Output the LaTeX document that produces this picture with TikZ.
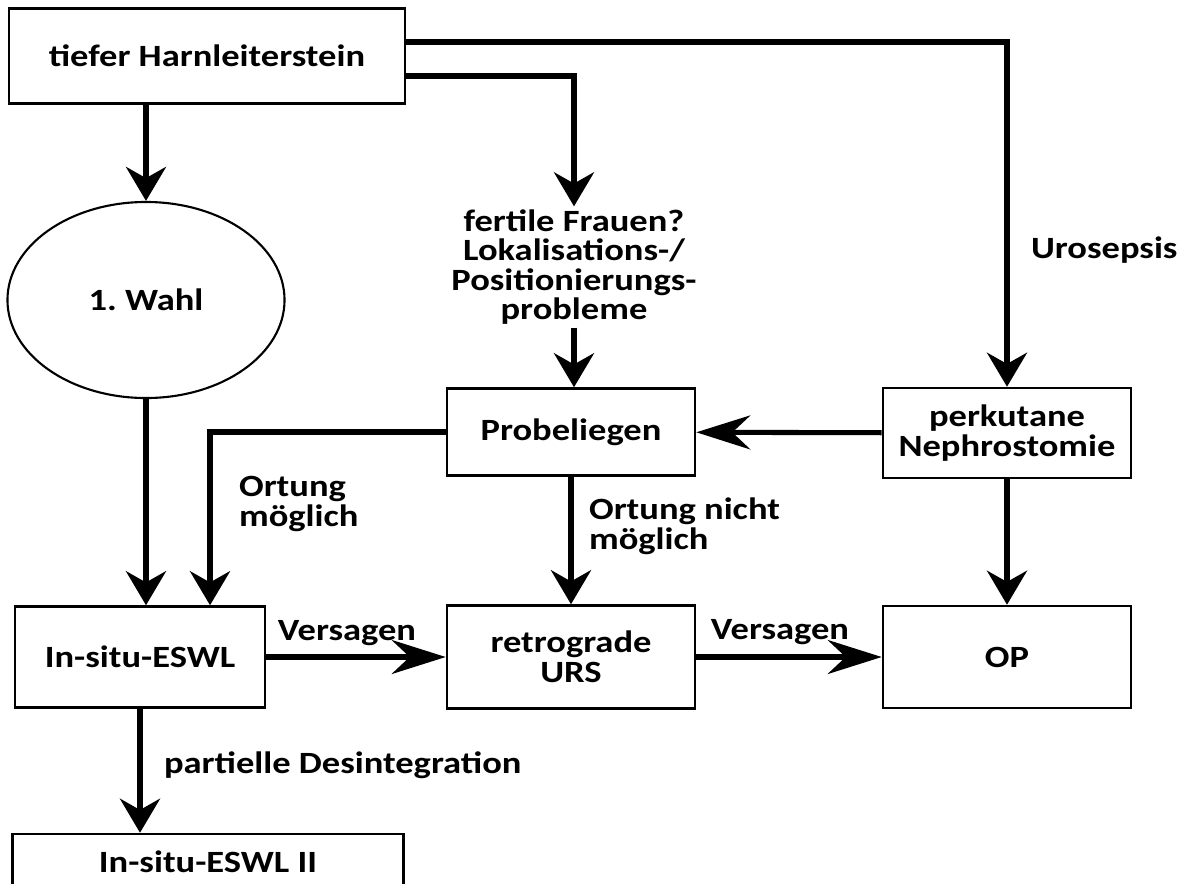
\documentclass[tikz,border=0pt]{standalone}
\usepackage{fontspec}
\setmainfont{Carlito}[FakeStretch=1.18]
\usetikzlibrary{arrows.meta, shapes.geometric, positioning}

\newcommand\diagfont{\fontsize{22}{21}\selectfont\bfseries}

\begin{document}
\begin{tikzpicture}[
    x=0.025cm, y=-0.025cm,
    box/.style={
        rectangle,
        draw=black,
        line width=1.8pt,
        minimum width=6.2cm,
        minimum height=2.2cm,
        align=center,
        font=\diagfont
    },
    oval/.style={
        ellipse,
        draw=black,
        line width=1.5pt,
        font=\diagfont
    },
    note/.style={
        font=\diagfont,
        inner sep=2pt
    },
    varrow/.style={
        -{Stealth[length=0.85cm, width=1cm, inset=0.28cm]},
        line width=3.6pt
    },
    harrow/.style={
        -{Stealth[length=1.35cm, width=0.85cm, inset=0.45cm]},
        line width=3.6pt
    }
]

% Page
\fill[white] (0,0) rectangle (1185,883);
\useasboundingbox (0,0) rectangle (1185,883);

% Left column
\node[box, minimum width=9.9cm, minimum height=2.375cm] (harn) at (207,56) {tiefer Harnleiterstein};
\node[oval, minimum width=6.925cm, minimum height=4.9cm] (wahl) at (146,300) {1.\ Wahl};
\node[box, minimum width=6.25cm, minimum height=2.525cm] (eswl) at (140,657) {In-situ-ESWL};
\node[box, minimum width=9.775cm, minimum height=1.4cm] (eswlii) at (208,862) {In-situ-ESWL II};

% Middle column
\node[note, align=center] (fertile) at (574,267) {fertile Frauen?\\Lokalisations-/\\Positionierungs-\\probleme};
\node[box, minimum height=2.175cm] (probe) at (571,432) {Probeliegen};
\node[box, minimum height=2.575cm] (urs) at (571,657) {retrograde\\URS};

% Right column
\node[box, minimum height=2.25cm] (nephro) at (1007,433) {perkutane\\Nephrostomie};
\node[box, minimum height=2.55cm] (op) at (1007,657) {OP};

% Connections
\draw[varrow] (harn.south -| wahl.north) -- (wahl.north);
\draw[varrow] (wahl.south) -- (wahl.south |- eswl.north);
\draw[varrow] ([yshift=0.35cm]harn.east) -| (nephro.north);
\draw[varrow] ([yshift=-0.5cm]harn.east) -| (fertile.north);
\draw[varrow] (fertile.south) -- (fertile.south |- probe.north);
\draw[harrow] (nephro) -- (probe);
\draw[varrow] (probe.west) -| ([xshift=1.75cm]eswl.north);
\draw[varrow] (probe) -- (urs);
\draw[varrow] (nephro) -- (op);
\draw[harrow] (eswl) -- (urs);
\draw[harrow] (urs) -- (op);
\draw[varrow] (eswl.south) -- (eswl.south |- eswlii.north);

% Labels
\node[note, anchor=west] (sepsis) at (1028,250) {Urosepsis};
\node[note, anchor=west, align=left] (ortja) at (236,504) {Ortung\\möglich};
\node[note, anchor=west, align=left] (ortnein) at (586,526) {Ortung nicht\\möglich};
\node[note] (versagen1) at (347,633) {Versagen};
\node[note] (versagen2) at (780,632) {Versagen};
\node[note, anchor=west] (partiell) at (161,765) {partielle Desintegration};

\end{tikzpicture}
\end{document}
